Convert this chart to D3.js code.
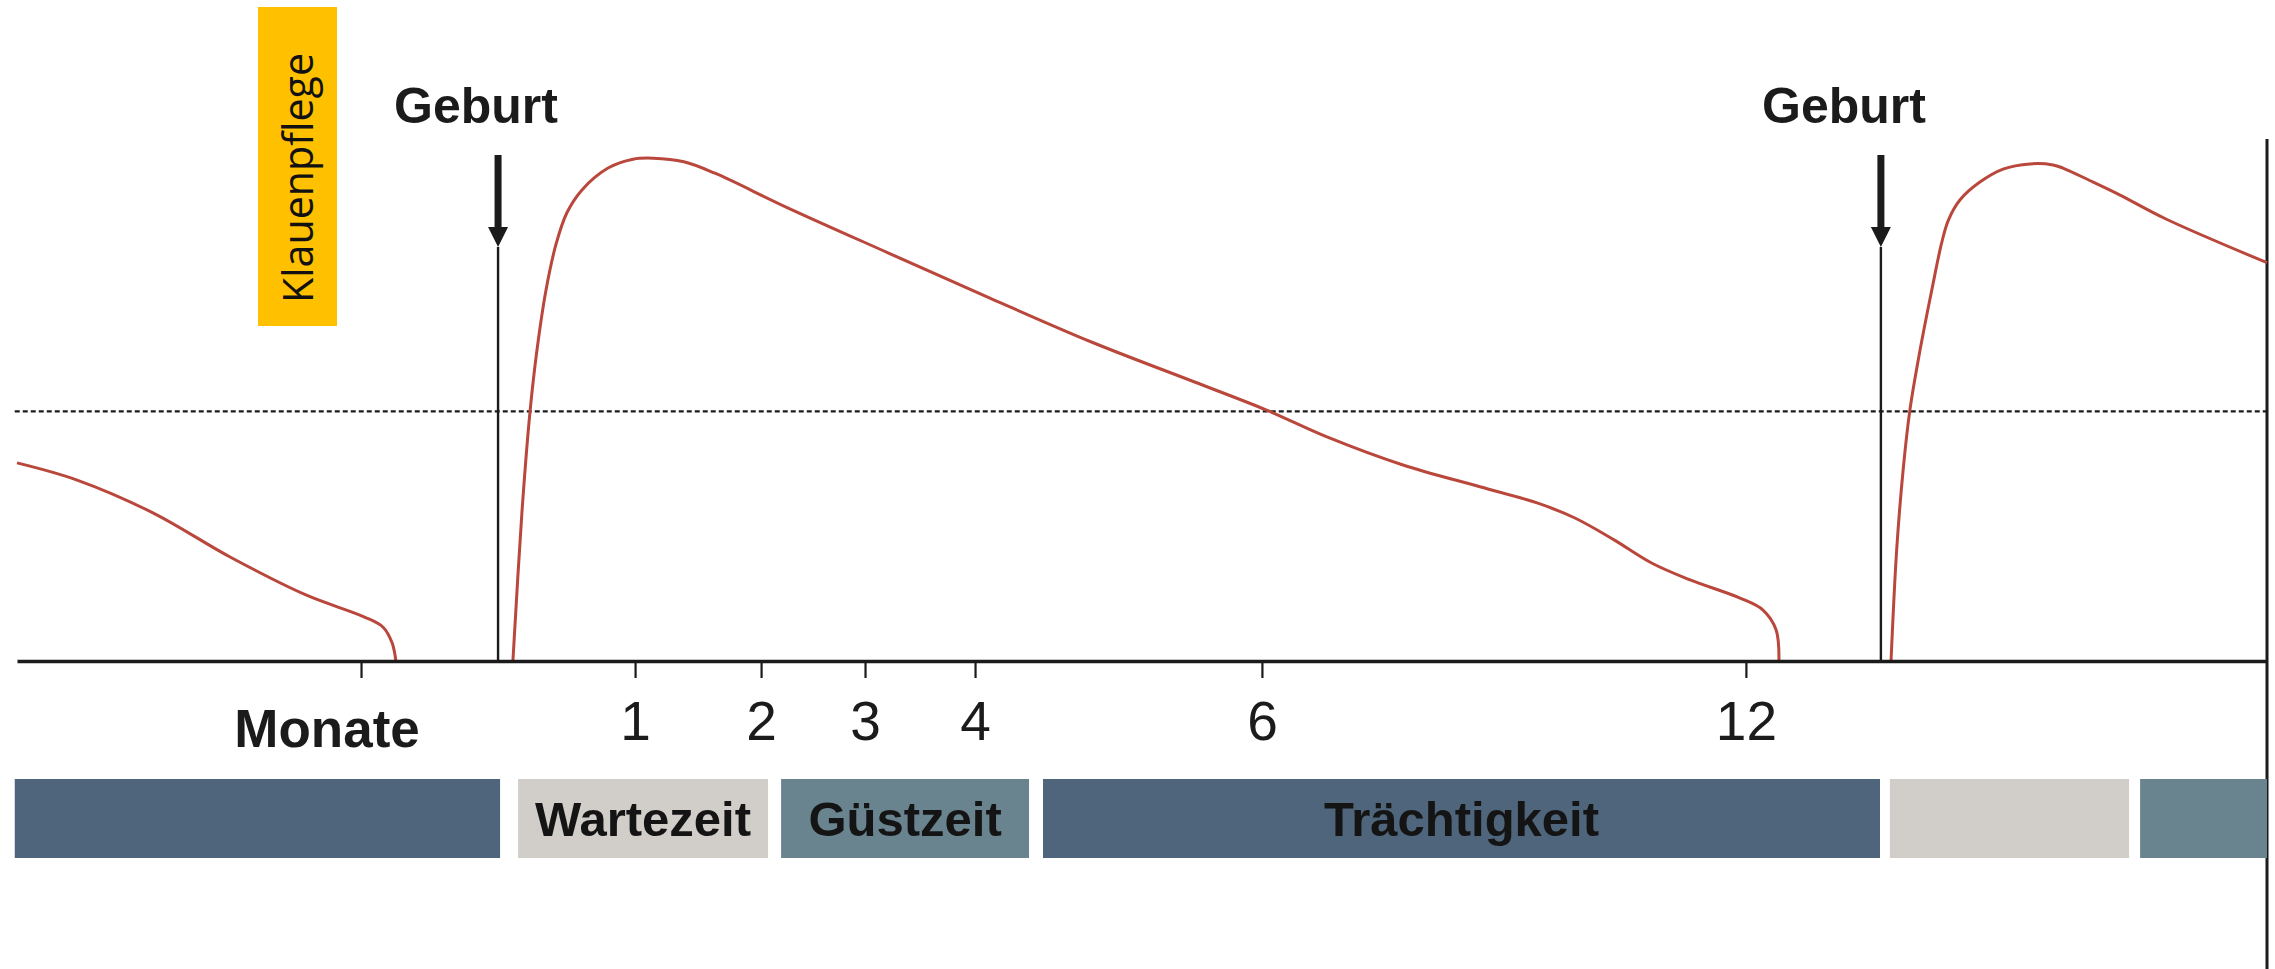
<!DOCTYPE html>
<html>
<head>
<meta charset="utf-8">
<script src="https://cdn.jsdelivr.net/npm/d3@7"></script>
<style>
  html, body { margin: 0; padding: 0; background: #fff; }
  svg { display: block; }
</style>
</head>
<body>
<svg id="chart"></svg>
<script>
// time runs 0..100 across the axis, milk yield 0..100 up the plot
const tickValues = [15.29, 27.47, 33.07, 37.69, 42.58, 55.33, 76.84];
const tickLabels = ['', '1', '2', '3', '4', '6', '12'];

const births = [21.38, 82.84];
const birthLabels = ['Geburt', 'Geburt'];
const birthLabelAt = [20.4, 81.2];

const threshold = 48;

const prevLactation = [
  [0, 38.1], [2.67, 34.8], [6.04, 28.5], [9.47, 20.0], [12.84, 12.7],
  [15.42, 8.5], [16.27, 6.5], [16.67, 3.5], [16.84, 0],
];

const lactation = [
  [22.04, 0], [22.44, 28.5], [22.8, 47.9], [23.11, 59.8], [23.51, 71.3],
  [23.96, 80.2], [24.44, 86.2], [25.11, 90.6], [26.27, 94.8], [27.38, 96.5],
  [28.27, 96.7], [29.64, 96.0], [31.02, 93.8], [34.18, 87.3], [38.71, 78.5],
  [43.24, 69.8], [47.78, 61.3], [52.31, 53.7], [55.51, 48.3], [58.22, 43.1],
  [61.6, 37.7], [65.02, 33.5], [67.56, 30.4], [69.24, 27.5], [70.98, 23.3],
  [72.67, 18.8], [74.36, 15.6], [76.58, 12.1], [77.6, 9.8], [78.18, 6.0],
  [78.31, 0],
];

const nextLactation = [
  [83.29, 0], [83.54, 21.3], [83.84, 37.3], [84.13, 48.3], [84.58, 59.8],
  [85.1, 71.3], [85.54, 80.4], [85.84, 84.8], [86.36, 88.7], [87.24, 92.1],
  [88.27, 94.6], [89.47, 95.6], [90.49, 95.4], [90.93, 94.8], [92.27, 92.1],
  [93.47, 89.6], [95.51, 85.0], [100, 76.6],
];

const phaseStart = [-0.1, 22.27, 33.96, 45.6, 83.24, 94.36];
const phaseEnd = [21.47, 33.38, 44.98, 82.8, 93.87, 100];
const phaseLabels = ['', 'Wartezeit', 'Güstzeit', 'Trächtigkeit', '', ''];
const phaseKinds = ['dry', 'wait', 'open', 'dry', 'wait', 'open'];

const axisTitle = 'Monate';
const axisTitleAt = 13.78;
const noteLabel = 'Klauenpflege';

const dim = {
  width: 2275,
  height: 969,
  plot: { l: 17, r: 2267, base: 661, top: 141 },
  bar: { t: 779, b: 858 },
  arrow: { top: 155, head: 227, tip: 247, half: 10 },
};

const colors = {
  curve: '#b9473b',
  ink: '#1b1b1b',
  dry: '#4f657c',
  wait: '#d1cec9',
  open: '#69848f',
  note: '#ffc000',
};

const svg = d3.select('#chart')
  .attr('width', dim.width)
  .attr('height', dim.height)
  .attr('viewBox', `0 0 ${dim.width} ${dim.height}`);

const x = d3.scaleLinear().domain([0, 100]).range([dim.plot.l, dim.plot.r]);
const y = d3.scaleLinear().domain([0, 100]).range([dim.plot.base, dim.plot.top]);

// Klauenpflege tag
svg.append('rect')
  .attr('x', 258)
  .attr('y', 7)
  .attr('width', 79)
  .attr('height', 319)
  .attr('fill', colors.note);

svg.append('text')
  .attr('transform', 'translate(313, 303) rotate(-90)')
  .attr('font-family', '"Open Sans", "Noto Sans", sans-serif')
  .attr('font-size', 42)
  .attr('textLength', 250)
  .attr('lengthAdjust', 'spacingAndGlyphs')
  .attr('fill', '#111')
  .text(noteLabel);

// threshold
svg.append('line')
  .attr('x1', x(-0.1))
  .attr('x2', x(100))
  .attr('y1', y(threshold))
  .attr('y2', y(threshold))
  .attr('stroke', colors.ink)
  .attr('stroke-width', 2.4)
  .attr('stroke-dasharray', '5,3');

// birth markers
const birthG = svg.append('g').attr('class', 'births');

birthG.selectAll('.birth-line')
  .data(births)
  .join('line')
  .attr('class', 'birth-line')
  .attr('x1', (d) => x(d))
  .attr('x2', (d) => x(d))
  .attr('y1', dim.arrow.tip)
  .attr('y2', dim.plot.base)
  .attr('stroke', colors.ink)
  .attr('stroke-width', 2.4);

birthG.selectAll('.birth-shaft')
  .data(births)
  .join('line')
  .attr('class', 'birth-shaft')
  .attr('x1', (d) => x(d))
  .attr('x2', (d) => x(d))
  .attr('y1', dim.arrow.top)
  .attr('y2', dim.arrow.head + 4)
  .attr('stroke', colors.ink)
  .attr('stroke-width', 7);

birthG.selectAll('.birth-head')
  .data(births)
  .join('path')
  .attr('class', 'birth-head')
  .attr('d', (d) => {
    const cx = x(d);
    const { head, tip, half } = dim.arrow;
    return `M${cx - half},${head}L${cx + half},${head}L${cx},${tip}Z`;
  })
  .attr('fill', colors.ink);

birthG.selectAll('.birth-label')
  .data(birthLabels)
  .join('text')
  .attr('class', 'birth-label')
  .attr('x', (d, i) => x(birthLabelAt[i]))
  .attr('y', 123)
  .attr('text-anchor', 'middle')
  .attr('font-family', '"Liberation Sans", Arial, sans-serif')
  .attr('font-weight', 'bold')
  .attr('font-size', 50)
  .attr('fill', colors.ink)
  .text((d) => d);

// right border
svg.append('line')
  .attr('x1', x(100))
  .attr('x2', x(100))
  .attr('y1', 139)
  .attr('y2', dim.height)
  .attr('stroke', colors.ink)
  .attr('stroke-width', 3);

// milk yield curves
const lineGenerator = d3.line()
  .x((d) => x(d[0]))
  .y((d) => y(d[1]))
  .curve(d3.curveCatmullRom.alpha(0.5));

svg.append('g')
  .attr('class', 'curves')
  .selectAll('path')
  .data([prevLactation, lactation, nextLactation])
  .join('path')
  .attr('d', lineGenerator)
  .attr('fill', 'none')
  .attr('stroke', colors.curve)
  .attr('stroke-width', 3)
  .attr('stroke-linejoin', 'round');

// time axis
const xAxisBottom = d3.axisBottom(x)
  .tickValues(tickValues)
  .tickFormat((d, i) => tickLabels[i])
  .tickSize(17)
  .tickSizeOuter(0);

const xAxis = svg.append('g')
  .attr('class', 'axis-x')
  .attr('transform', `translate(0, ${dim.plot.base})`)
  .call(xAxisBottom);

xAxis.select('.domain')
  .attr('stroke', colors.ink)
  .attr('stroke-width', 3.5);

xAxis.selectAll('.tick line')
  .attr('stroke', colors.ink)
  .attr('stroke-width', 2.2);

xAxis.selectAll('.tick text')
  .attr('y', 79)
  .attr('dy', 0)
  .attr('fill', colors.ink)
  .attr('font-family', '"Liberation Sans", Arial, sans-serif')
  .attr('font-size', 55);

svg.append('text')
  .attr('x', x(axisTitleAt))
  .attr('y', 747)
  .attr('text-anchor', 'middle')
  .attr('font-family', '"Liberation Sans", Arial, sans-serif')
  .attr('font-weight', 'bold')
  .attr('font-size', 53)
  .attr('fill', colors.ink)
  .text(axisTitle);

// cycle phases
const phases = phaseStart.map((s, i) => ({
  start: s, end: phaseEnd[i], label: phaseLabels[i], kind: phaseKinds[i],
}));

const phaseG = svg.append('g').attr('class', 'phases');

phaseG.selectAll('rect')
  .data(phases)
  .join('rect')
  .attr('x', (d) => x(d.start))
  .attr('width', (d) => x(d.end) - x(d.start))
  .attr('y', dim.bar.t)
  .attr('height', dim.bar.b - dim.bar.t)
  .attr('fill', (d) => colors[d.kind]);

phaseG.selectAll('text')
  .data(phases.filter((d) => d.label))
  .join('text')
  .attr('x', (d) => (x(d.start) + x(d.end)) / 2)
  .attr('y', 836)
  .attr('text-anchor', 'middle')
  .attr('font-family', '"Liberation Sans", Arial, sans-serif')
  .attr('font-weight', 'bold')
  .attr('font-size', 49)
  .attr('fill', '#141414')
  .text((d) => d.label);
</script>
</body>
</html>
